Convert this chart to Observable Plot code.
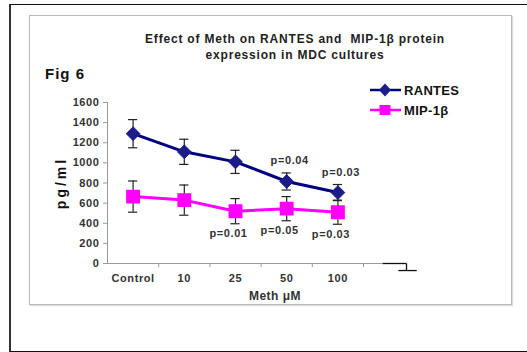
<!DOCTYPE html>
<html><head><meta charset="utf-8">
<script src="https://cdn.jsdelivr.net/npm/d3@7"></script>
<script src="https://cdn.jsdelivr.net/npm/@observablehq/plot@0.6"></script>
<style>
body{margin:0;background:#fff;font-family:"Liberation Sans",Arial,sans-serif}
#wrap{position:relative;width:527px;height:352px;overflow:hidden;background:#fff}
.abs{position:absolute;white-space:nowrap}
#outer{position:absolute;left:9px;top:4px;width:540px;height:346px;border-left:2px solid #333;border-top:1.5px solid #111;border-bottom:1.5px solid #111}
#inner{position:absolute;left:29px;top:15px;width:481px;height:288px;border:1px solid #b8b8b8;box-shadow:1px 1px 1px #ddd}
#title{left:120px;top:31px;width:350px;text-align:center;font-weight:bold;font-size:12px;letter-spacing:0.8px;line-height:16px;color:#222}
#fig{left:45px;top:65px;font-weight:bold;font-size:15px;letter-spacing:1px;color:#111}
#ylab{left:61px;top:183px;transform:translate(-50%,-50%) rotate(-90deg);font-weight:bold;font-size:14px;letter-spacing:3px;color:#111}
#xlab{left:275px;top:296px;transform:translate(-50%,-50%);font-weight:bold;font-size:12px;letter-spacing:0.5px;color:#333}
#plot{position:absolute;left:0;top:0}
#plot svg text{letter-spacing:0.6px}
.leg{font-weight:bold;font-size:13px;letter-spacing:0.3px;color:#111;display:flex;align-items:center}
.leg svg{margin-right:3px}
</style></head>
<body>
<div id="wrap">
  <div id="outer"></div>
  <div id="inner"></div>
  <div id="plot"></div>
  <div class="abs" id="title">Effect of Meth on RANTES and&nbsp; MIP-1β protein<br>expression in MDC cultures</div>
  <div class="abs" id="fig">Fig 6</div>
  <div class="abs" id="ylab">pg/ml</div>
  <div class="abs" id="xlab">Meth μM</div>
  <div class="abs leg" id="leg1" style="left:370px;top:82px"></div>
  <div class="abs leg" id="leg2" style="left:370px;top:102px"></div>
</div>
<script>
const doses = ["Control", "10", "25", "50", "100"];
const rantes = [1290, 1110, 1010, 815, 705];
const rantesErr = [140, 125, 115, 85, 80];
const mip = [665, 630, 520, 545, 510];
const mipErr = [155, 150, 125, 120, 120];
const rantesP = ["", "", "", "p=0.04", "p=0.03"];
const mipP = ["", "", "p=0.01", "p=0.05", "p=0.03"];
const yTicks = [0, 200, 400, 600, 800, 1000, 1200, 1400, 1600];
const seriesNames = ["RANTES", "MIP-1β"];
const seriesColors = ["#000080", "#ff00ff"];
const markerColors = ["#1c1c88", "#ff00ff"];
// stray error-bar fragment to the right of the axis (in axis units)
const strayBar = [
  {x1: 5.37, x2: 5.84, y1: 0, y2: 0},
  {x1: 5.84, x2: 5.84, y1: 0, y2: -70},
  {x1: 5.68, x2: 6.04, y1: -70, y2: -70}
];
const axisEnd = 5.37;

const rows = [];
doses.forEach((d, i) => {
  rows.push({s: seriesNames[0], x: i + 0.5, v: rantes[i], e: rantesErr[i], p: rantesP[i]});
  rows.push({s: seriesNames[1], x: i + 0.5, v: mip[i], e: mipErr[i], p: mipP[i]});
});
const R = rows.filter(r => r.s === seriesNames[0]);
const M = rows.filter(r => r.s === seriesNames[1]);
const cap = 0.09;

const chart = Plot.plot({
  width: 527, height: 352,
  marginLeft: 107, marginRight: 164, marginTop: 102, marginBottom: 89,
  style: {fontFamily: "'Liberation Sans', Arial, sans-serif", background: "transparent", overflow: "visible"},
  x: {domain: [0, 5], axis: null},
  y: {domain: [0, 1600], axis: null},
  marks: [
    Plot.ruleX([0], {y1: 0, y2: 1600, stroke: "#9a9a9a", strokeWidth: 1}),
    Plot.axisY({ticks: yTicks, tickSize: 4, tickPadding: 4, stroke: "#9a9a9a",
      fontSize: 11, fontWeight: "bold", fill: "#333", tickFormat: d => String(d)}),
    Plot.ruleY([0], {x1: 0, x2: axisEnd, stroke: "#9a9a9a", strokeWidth: 1}),
    Plot.axisX({ticks: [1, 2, 3, 4, 5], tickSize: 4, tickFormat: () => "", stroke: "#9a9a9a"}),
    Plot.text(doses, {x: (d, i) => i + 0.5, frameAnchor: "bottom", dy: 18, text: d => d,
      fontSize: 11, fontWeight: "bold", fill: "#333"}),
    Plot.link(strayBar, {x1: "x1", x2: "x2", y1: "y1", y2: "y2", stroke: "#111", strokeWidth: 1.3}),
    Plot.line(R, {x: "x", y: "v", stroke: seriesColors[0], strokeWidth: 3}),
    Plot.line(M, {x: "x", y: "v", stroke: seriesColors[1], strokeWidth: 3}),
    Plot.ruleX(rows, {x: "x", y1: r => r.v - r.e, y2: r => r.v + r.e, stroke: "#222", strokeWidth: 1.2}),
    Plot.ruleY(rows, {y: r => r.v + r.e, x1: r => r.x - cap, x2: r => r.x + cap, stroke: "#222", strokeWidth: 1.2}),
    Plot.ruleY(rows, {y: r => r.v - r.e, x1: r => r.x - cap, x2: r => r.x + cap, stroke: "#222", strokeWidth: 1.2}),
    Plot.dot(R, {x: "x", y: "v", symbol: "diamond2", r: 6.2, fill: markerColors[0], stroke: markerColors[0], strokeWidth: 1}),
    Plot.dot(M, {x: "x", y: "v", symbol: "square", r: 7, fill: markerColors[1], stroke: markerColors[1]}),
    Plot.text(R.filter(r => r.p), {x: "x", y: r => r.v + r.e, text: "p", dy: -12, dx: 3,
      fontSize: 11, fontWeight: "bold", fill: "#333"}),
    Plot.text(M.filter(r => r.p), {x: "x", y: r => r.v - r.e, text: "p", dy: 10, dx: -7,
      fontSize: 11, fontWeight: "bold", fill: "#333"})
  ]
});
document.getElementById("plot").appendChild(chart);

function legendIcon(i) {
  const sym = i === 0
    ? `<path d="M15,1.5 L21,8 L15,14.5 L9,8 Z" fill="${markerColors[0]}"/>`
    : `<rect x="9.5" y="3" width="11" height="10" fill="${markerColors[1]}"/>`;
  return `<svg width="31" height="16"><line x1="0" x2="31" y1="8" y2="8" stroke="${seriesColors[i]}" stroke-width="2.5"/>${sym}</svg>`;
}
document.getElementById("leg1").innerHTML = legendIcon(0) + "<span>" + seriesNames[0] + "</span>";
document.getElementById("leg2").innerHTML = legendIcon(1) + "<span>" + seriesNames[1] + "</span>";
</script>
</body></html>
